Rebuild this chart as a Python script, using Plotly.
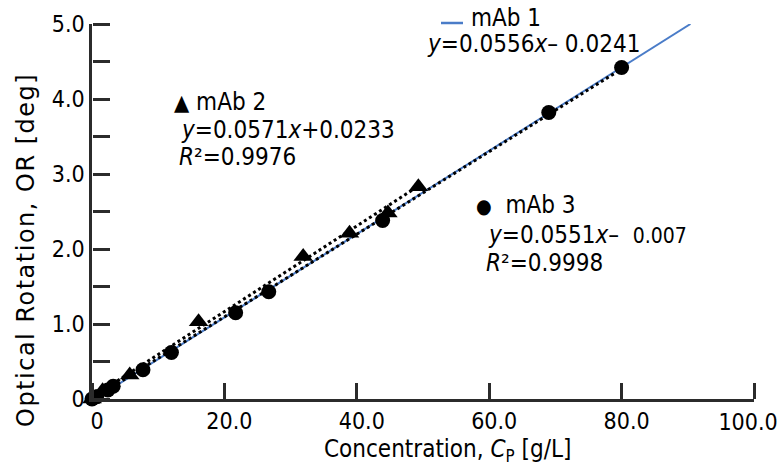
import plotly.graph_objects as go

# ---- data ----
mab3_conc = [0, 0.7, 2.4, 3.2, 7.7, 12.0, 21.7, 26.7, 43.9, 69.0, 80.0]
mab3_or = [0.0, 0.03, 0.12, 0.17, 0.39, 0.62, 1.15, 1.43, 2.38, 3.82, 4.42]

mab2_conc = [0, 0.6, 1.6, 5.7, 16.1, 31.9, 38.9, 44.7, 49.3]
mab2_or = [0.0, 0.02, 0.11, 0.32, 1.03, 1.90, 2.21, 2.48, 2.83]

# fitted lines (end points)
mab1_fit_x = [0, 90.4]
mab1_fit_y = [-0.024, 5.0]
mab2_fit_x = [0, 49.3]
mab2_fit_y = [0.023, 2.838]
mab3_fit_x = [0, 80.0]
mab3_fit_y = [-0.007, 4.401]

x_tickvals = [0, 20, 40, 60, 80, 100]
x_ticktext = ["0", "20.0", "40.0", "60.0", "80.0", "100.0"]
y_tickvals = [0, 1, 2, 3, 4, 5]
y_ticktext = ["0", "1.0", "2.0", "3.0", "4.0", "5.0"]

FAM = "DejaVu Sans Condensed, DejaVu Sans, sans-serif"
BLUE = "#4a7cc8"
AXC = "#2b2b2b"


def cfont(size):
    return dict(family=FAM, size=size, color="black")


fig = go.Figure()
fig.add_trace(go.Scatter(x=mab1_fit_x, y=mab1_fit_y, mode="lines",
                         line=dict(color=BLUE, width=2), showlegend=False))
fig.add_trace(go.Scatter(x=mab3_fit_x, y=mab3_fit_y, mode="lines",
                         line=dict(color="black", width=3, dash="dot"), showlegend=False))
fig.add_trace(go.Scatter(x=mab2_fit_x, y=mab2_fit_y, mode="lines",
                         line=dict(color="black", width=3, dash="dot"), showlegend=False))
fig.add_trace(go.Scatter(x=mab3_conc, y=mab3_or, mode="markers", cliponaxis=False,
                         marker=dict(symbol="circle", size=15, color="black"), showlegend=False))
fig.add_trace(go.Scatter(x=mab2_conc, y=mab2_or, mode="markers", cliponaxis=False,
                         marker=dict(symbol="triangle-up", size=17, color="black"), showlegend=False))
# invisible traces that carry the helper overlay axes
fig.add_trace(go.Scatter(x=mab3_conc, y=mab3_or, xaxis="x2", yaxis="y2", mode="markers",
                         marker=dict(opacity=0), hoverinfo="skip", showlegend=False))
fig.add_trace(go.Scatter(x=mab3_conc, y=mab3_or, xaxis="x3", yaxis="y", mode="markers",
                         marker=dict(opacity=0), hoverinfo="skip", showlegend=False))

L, R, T, B = 92, 27, 24, 69
W, H = 781, 468
PW, PH = W - L - R, H - T - B


def px(x):
    return (x - L) / PW


def py(y):
    return (H - B - y) / PH


anns = []


def txt(text, x, y, size=24, xanchor="left", **kw):
    anns.append(dict(text=text, x=px(x), y=py(y), xref="paper", yref="paper",
                     xanchor=xanchor, yanchor="middle", showarrow=False,
                     font=cfont(size), **kw))


txt("mAb 1", 469, 18)
txt("<i>y</i>=0.0556<i>x</i>– 0.0241", 425, 44)
txt("<span style='font-size:22px'>▲</span> mAb 2", 172, 102)
txt("<i>y</i>=0.0571<i>x</i>+0.0233", 179, 130)
txt("<i>R</i>²=0.9976", 177, 157)
txt("<span style='font-size:20px'>●</span>  mAb 3", 474, 205)
txt("<i>y</i>=0.0551<i>x</i>–  <span style='font-size:21px'>0.007</span>", 486, 235)
txt("<i>R</i>²=0.9998", 484, 263)

# axis titles
txt("Concentration, <i>C</i><sub>P</sub> [g/L]", 447, 450, size=24, xanchor="center")
anns.append(dict(text="<span style='letter-spacing:1.5px'>Optical Rotation, OR [deg]</span>",
                 x=px(26), y=py(250), xref="paper", yref="paper",
                 xanchor="center", yanchor="middle", showarrow=False, textangle=-90,
                 font=dict(family="DejaVu Sans, sans-serif", size=24, color="black")))

tick_style = dict(tickcolor=AXC, tickwidth=2.5)
nolines = dict(showgrid=False, zeroline=False, showline=False, automargin=False)

fig.update_layout(
    width=W, height=H,
    margin=dict(l=L, r=R, t=T, b=B, autoexpand=False),
    paper_bgcolor="white", plot_bgcolor="white",
    annotations=anns,
    shapes=[dict(type="line", xref="paper", yref="paper",
                 x0=px(441), x1=px(463), y0=py(23), y1=py(23),
                 line=dict(color=BLUE, width=2.5))],
    xaxis=dict(range=[0, 100], tickmode="array", tickvals=x_tickvals[:-1], ticktext=x_ticktext[:-1],
               showgrid=False, zeroline=False, showline=True, linecolor=AXC, linewidth=2.5,
               ticks="", automargin=False, ticklabeloverflow="allow", ticklabelshift=5,
               tickfont=cfont(23)),
    # last x label on its own overlay axis so it can be nudged inside the picture
    xaxis3=dict(overlaying="x", matches="x", side="bottom", anchor="free", position=0,
                range=[0, 100], tickmode="array", tickvals=x_tickvals[-1:], ticktext=x_ticktext[-1:],
                ticks="", ticklabeloverflow="allow", ticklabelshift=-6, ticklabelstandoff=7,
                tickfont=cfont(23), **nolines),
    yaxis=dict(range=[0, 5], tickmode="array", tickvals=y_tickvals, ticktext=y_ticktext,
               showgrid=False, zeroline=False, showline=True, linecolor=AXC, linewidth=2.5,
               ticks="", automargin=False, ticklabeloverflow="allow",
               tickfont=cfont(23)),
    # tick-only overlay axes: outside ticks of a top/right axis placed at the
    # bottom/left edge point into the plot, like the reference
    xaxis2=dict(overlaying="x", matches="x", side="top", anchor="free", position=0,
                range=[0, 100], tickmode="array", tickvals=x_tickvals, showticklabels=False,
                ticks="outside", ticklen=16, **tick_style, **nolines),
    yaxis2=dict(overlaying="y", matches="y", side="right", anchor="free", position=0,
                range=[0, 5], tickmode="array", tickvals=y_tickvals, showticklabels=False,
                ticks="outside", ticklen=17, **tick_style, **nolines,
                minor=dict(dtick=0.5, ticks="outside", ticklen=17, tickwidth=2.5, tickcolor=AXC)),
)

fig.write_html("out.html")
